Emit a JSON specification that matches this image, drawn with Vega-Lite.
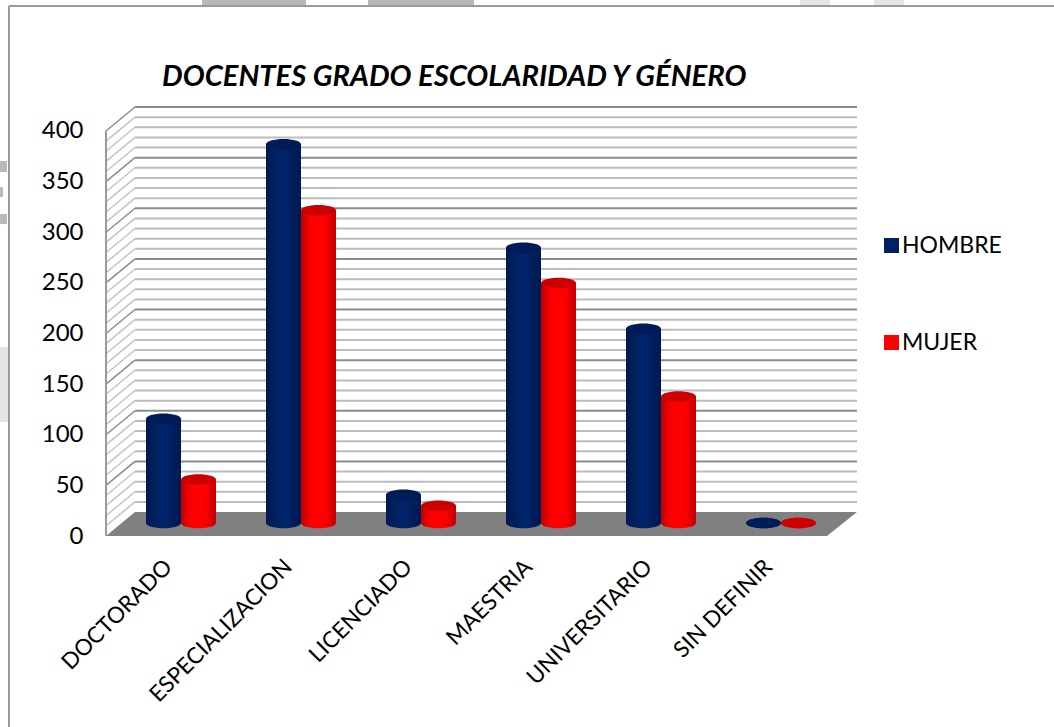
{
"$schema":"https://vega.github.io/schema/vega-lite/v6.json",
"width":751,"height":429,
"autosize":{"type":"none"},
"padding":{"left":106,"top":107,"right":197,"bottom":191},
"background":"white",
"config":{"view":{"stroke":null},"font":"Lato"},
"title":{"text":"DOCENTES GRADO ESCOLARIDAD Y GÉNERO","anchor":"start","frame":"group","dx":56,"offset":-92,"font":"Lato","fontSize":29.2,"fontWeight":"bold","fontStyle":"italic","color":"#000000"},
"datasets":{
"bars":[
{"cat":"DOCTORADO","gen":"HOMBRE","val":103},{"cat":"DOCTORADO","gen":"MUJER","val":43},
{"cat":"ESPECIALIZACION","gen":"HOMBRE","val":374},{"cat":"ESPECIALIZACION","gen":"MUJER","val":309},
{"cat":"LICENCIADO","gen":"HOMBRE","val":28},{"cat":"LICENCIADO","gen":"MUJER","val":17},
{"cat":"MAESTRIA","gen":"HOMBRE","val":272},{"cat":"MAESTRIA","gen":"MUJER","val":237},
{"cat":"UNIVERSITARIO","gen":"HOMBRE","val":192},{"cat":"UNIVERSITARIO","gen":"MUJER","val":125},
{"cat":"SIN DEFINIR","gen":"HOMBRE","val":0},{"cat":"SIN DEFINIR","gen":"MUJER","val":0}],
"major":[{"v":50,"f":26.3},{"v":100,"f":76.3},{"v":150,"f":126.3},{"v":200,"f":176.3},{"v":250,"f":226.3},{"v":300,"f":276.3},{"v":350,"f":326.3},{"v":400,"f":376.3}],
"minor":[{"v":10,"f":-13.7},{"v":20,"f":-3.7},{"v":30,"f":6.3},{"v":40,"f":16.3},{"v":60,"f":36.3},{"v":70,"f":46.3},{"v":80,"f":56.3},{"v":90,"f":66.3},{"v":110,"f":86.3},{"v":120,"f":96.3},{"v":130,"f":106.3},{"v":140,"f":116.3},{"v":160,"f":136.3},{"v":170,"f":146.3},{"v":180,"f":156.3},{"v":190,"f":166.3},{"v":210,"f":186.3},{"v":220,"f":196.3},{"v":230,"f":206.3},{"v":240,"f":216.3},{"v":260,"f":236.3},{"v":270,"f":246.3},{"v":280,"f":256.3},{"v":290,"f":266.3},{"v":310,"f":286.3},{"v":320,"f":296.3},{"v":330,"f":306.3},{"v":340,"f":316.3},{"v":360,"f":336.3},{"v":370,"f":346.3},{"v":380,"f":356.3},{"v":390,"f":366.3}],
"floor":[{"y":-23.7,"a":0,"b":721},{"y":0,"a":29,"b":751}],
"frame":[{"a":-97,"b":948,"c":499.7,"d":499.7},{"a":-97,"b":-97,"c":499.7,"d":-212.3},{"a":0,"b":0,"c":-23.7,"d":376.3}],
"marks":[{"a":96,"b":200,"c":505.7,"d":500.7},{"a":262,"b":368,"c":505.7,"d":500.7},{"a":-106,"b":-99,"c":346.7,"d":335.8},{"a":-106,"b":-103,"c":321,"d":311},{"a":-106,"b":-99,"c":294.3,"d":284.4}],
"light":[{"a":694,"b":724,"c":505.7,"d":500.7},{"a":768,"b":798,"c":505.7,"d":500.7},{"a":-106,"b":-98,"c":163,"d":88.9}]
},
"resolve":{"scale":{"x":"independent","y":"independent"}},
"layer":[
{"data":{"name":"bars"},"mark":{"type":"point","size":0,"opacity":0},
 "encoding":{
  "x":{"field":"cat","type":"nominal","sort":null,"scale":{"range":[2,722],"paddingInner":0,"paddingOuter":0},
   "axis":{"title":null,"domain":false,"ticks":false,"grid":false,"labelAngle":-45,"labelAlign":"right","labelBaseline":"middle","labelPadding":27,"labelFont":"Lato","labelFontSize":22.5,"labelColor":"#000000","labelLimit":300}},
  "y":{"field":"val","type":"quantitative","scale":{"domain":[0,423.7],"nice":false},
   "axis":{"title":null,"domain":false,"ticks":false,"grid":false,"values":[0,50,100,150,200,250,300,350,400],"labelPadding":23,"labelFont":"Lato","labelFontSize":24,"labelColor":"#000000"}}}},
{"data":{"name":"marks"},"mark":{"type":"rect","fill":"#b9b9b9"},
 "encoding":{"x":{"field":"a","type":"quantitative","scale":{"domain":[0,751],"nice":false,"zero":false},"axis":null},"x2":{"field":"b"},
  "y":{"field":"c","type":"quantitative","scale":{"domain":[-23.7,400],"nice":false,"zero":false},"axis":null},"y2":{"field":"d"}}},
{"data":{"name":"light"},"mark":{"type":"rect","fill":"#e4e4e4"},
 "encoding":{"x":{"field":"a","type":"quantitative","scale":{"domain":[0,751],"nice":false,"zero":false},"axis":null},"x2":{"field":"b"},
  "y":{"field":"c","type":"quantitative","scale":{"domain":[-23.7,400],"nice":false,"zero":false},"axis":null},"y2":{"field":"d"}}},
{"data":{"name":"floor"},"mark":{"type":"area","orient":"horizontal","color":"#808080"},
 "encoding":{"x":{"field":"a","type":"quantitative","scale":{"domain":[0,751],"nice":false,"zero":false},"axis":null},"x2":{"field":"b"},
  "y":{"field":"y","type":"quantitative","scale":{"domain":[-23.7,400],"nice":false,"zero":false},"axis":null}}},
{"data":{"name":"minor"},"mark":{"type":"rule","color":"#bcbcbc","strokeWidth":2},
 "encoding":{"x":{"datum":29,"type":"quantitative","scale":{"domain":[0,751],"nice":false,"zero":false},"axis":null},"x2":{"datum":751},
  "y":{"field":"v","type":"quantitative","scale":{"domain":[-23.7,400],"nice":false,"zero":false},"axis":null}}},
{"data":{"name":"minor"},"mark":{"type":"rule","color":"#c4c4c4","strokeWidth":1.5},
 "encoding":{"x":{"datum":0,"type":"quantitative","scale":{"domain":[0,751],"nice":false,"zero":false},"axis":null},"x2":{"datum":29},
  "y":{"field":"f","type":"quantitative","scale":{"domain":[-23.7,400],"nice":false,"zero":false},"axis":null},"y2":{"field":"v"}}},
{"data":{"name":"major"},"mark":{"type":"rule","color":"#8c8c8c","strokeWidth":2},
 "encoding":{"x":{"datum":29,"type":"quantitative","scale":{"domain":[0,751],"nice":false,"zero":false},"axis":null},"x2":{"datum":751},
  "y":{"field":"v","type":"quantitative","scale":{"domain":[-23.7,400],"nice":false,"zero":false},"axis":null}}},
{"data":{"name":"major"},"mark":{"type":"rule","color":"#8c8c8c","strokeWidth":1.5},
 "encoding":{"x":{"datum":0,"type":"quantitative","scale":{"domain":[0,751],"nice":false,"zero":false},"axis":null},"x2":{"datum":29},
  "y":{"field":"f","type":"quantitative","scale":{"domain":[-23.7,400],"nice":false,"zero":false},"axis":null},"y2":{"field":"v"}}},
{"data":{"name":"frame"},"mark":{"type":"rule","color":"#9a9a9a","strokeWidth":2},
 "encoding":{"x":{"field":"a","type":"quantitative","scale":{"domain":[0,751],"nice":false,"zero":false},"axis":null},"x2":{"field":"b"},
  "y":{"field":"c","type":"quantitative","scale":{"domain":[-23.7,400],"nice":false,"zero":false},"axis":null},"y2":{"field":"d"}}},
{"data":{"name":"bars"},"transform":[{"filter":"datum.gen==='HOMBRE'"}],
 "mark":{"type":"point","filled":true,"opacity":1,"size":1225,"shape":"M-1,0A1,0.3 0 1,1 1,0A1,0.3 0 1,1 -1,0Z","fill":{"x1":0,"y1":0,"x2":1,"y2":0,"gradient":"linear","stops":[{"offset":0,"color":"#001a50"},{"offset":0.5,"color":"#00246c"},{"offset":1,"color":"#001a50"}]}},
 "encoding":{
  "x":{"field":"cat","type":"nominal","sort":null,"scale":{"range":[40,710],"paddingInner":0.41667,"paddingOuter":0},"axis":null},
  "xOffset":{"field":"gen","scale":{"domain":["HOMBRE","MUJER"]}},
  "y":{"datum":0,"type":"quantitative","scale":{"domain":[-12.8,410.9],"nice":false,"zero":false},"axis":null}}},
{"data":{"name":"bars"},"transform":[{"filter":"datum.gen==='HOMBRE'"}],
 "mark":{"type":"bar","fill":{"x1":0,"y1":0,"x2":1,"y2":0,"gradient":"linear","stops":[{"offset":0,"color":"#001a50"},{"offset":0.5,"color":"#00246c"},{"offset":1,"color":"#001a50"}]}},
 "encoding":{
  "x":{"field":"cat","type":"nominal","sort":null,"scale":{"range":[40,710],"paddingInner":0.41667,"paddingOuter":0},"axis":null},
  "xOffset":{"field":"gen","scale":{"domain":["HOMBRE","MUJER"]}},
  "y":{"field":"val","type":"quantitative","stack":null,"scale":{"domain":[-12.8,410.9],"nice":false,"zero":false},"axis":null}}},
{"data":{"name":"bars"},"transform":[{"filter":"datum.gen==='HOMBRE'"}],
 "mark":{"type":"point","filled":true,"opacity":1,"size":1225,"color":"#001c58","shape":"M-1,0A1,0.3 0 1,1 1,0A1,0.3 0 1,1 -1,0Z"},
 "encoding":{
  "x":{"field":"cat","type":"nominal","sort":null,"scale":{"range":[40,710],"paddingInner":0.41667,"paddingOuter":0},"axis":null},
  "xOffset":{"field":"gen","scale":{"domain":["HOMBRE","MUJER"]}},
  "y":{"field":"val","type":"quantitative","scale":{"domain":[-12.8,410.9],"nice":false,"zero":false},"axis":null}}},
{"data":{"name":"bars"},"transform":[{"filter":"datum.gen==='MUJER'"}],
 "mark":{"type":"point","filled":true,"opacity":1,"size":1225,"shape":"M-1,0A1,0.3 0 1,1 1,0A1,0.3 0 1,1 -1,0Z","fill":{"x1":0,"y1":0,"x2":1,"y2":0,"gradient":"linear","stops":[{"offset":0,"color":"#c00000"},{"offset":0.3,"color":"#ff0000"},{"offset":0.7,"color":"#ff0000"},{"offset":1,"color":"#c00000"}]}},
 "encoding":{
  "x":{"field":"cat","type":"nominal","sort":null,"scale":{"range":[40,710],"paddingInner":0.41667,"paddingOuter":0},"axis":null},
  "xOffset":{"field":"gen","scale":{"domain":["HOMBRE","MUJER"]}},
  "y":{"datum":0,"type":"quantitative","scale":{"domain":[-12.8,410.9],"nice":false,"zero":false},"axis":null}}},
{"data":{"name":"bars"},"transform":[{"filter":"datum.gen==='MUJER'"}],
 "mark":{"type":"bar","fill":{"x1":0,"y1":0,"x2":1,"y2":0,"gradient":"linear","stops":[{"offset":0,"color":"#c00000"},{"offset":0.3,"color":"#ff0000"},{"offset":0.7,"color":"#ff0000"},{"offset":1,"color":"#c00000"}]}},
 "encoding":{
  "x":{"field":"cat","type":"nominal","sort":null,"scale":{"range":[40,710],"paddingInner":0.41667,"paddingOuter":0},"axis":null},
  "xOffset":{"field":"gen","scale":{"domain":["HOMBRE","MUJER"]}},
  "y":{"field":"val","type":"quantitative","stack":null,"scale":{"domain":[-12.8,410.9],"nice":false,"zero":false},"axis":null}}},
{"data":{"name":"bars"},"transform":[{"filter":"datum.gen==='MUJER'"}],
 "mark":{"type":"point","filled":true,"opacity":1,"size":1225,"color":"#cc0000","shape":"M-1,0A1,0.3 0 1,1 1,0A1,0.3 0 1,1 -1,0Z"},
 "encoding":{
  "x":{"field":"cat","type":"nominal","sort":null,"scale":{"range":[40,710],"paddingInner":0.41667,"paddingOuter":0},"axis":null},
  "xOffset":{"field":"gen","scale":{"domain":["HOMBRE","MUJER"]}},
  "y":{"field":"val","type":"quantitative","scale":{"domain":[-12.8,410.9],"nice":false,"zero":false},"axis":null}}},
{"data":{"name":"bars"},"mark":{"type":"point","filled":true,"size":0,"shape":"square"},
 "encoding":{
  "x":{"datum":-50,"type":"quantitative","scale":{"domain":[0,751],"nice":false,"zero":false},"axis":null},
  "y":{"datum":-50,"type":"quantitative","scale":{"domain":[-23.7,400],"nice":false,"zero":false},"axis":null},
  "color":{"field":"gen","type":"nominal","scale":{"domain":["HOMBRE","MUJER"],"range":["#002060","#ff0000"]},
   "legend":{"title":null,"orient":"none","legendX":774,"legendY":127,"symbolType":"square","symbolSize":225,"symbolOpacity":1,"labelFont":"Lato","labelFontSize":23,"labelColor":"#000000","labelOffset":-1,"rowPadding":73,"symbolStrokeWidth":0}}}}
]
}
